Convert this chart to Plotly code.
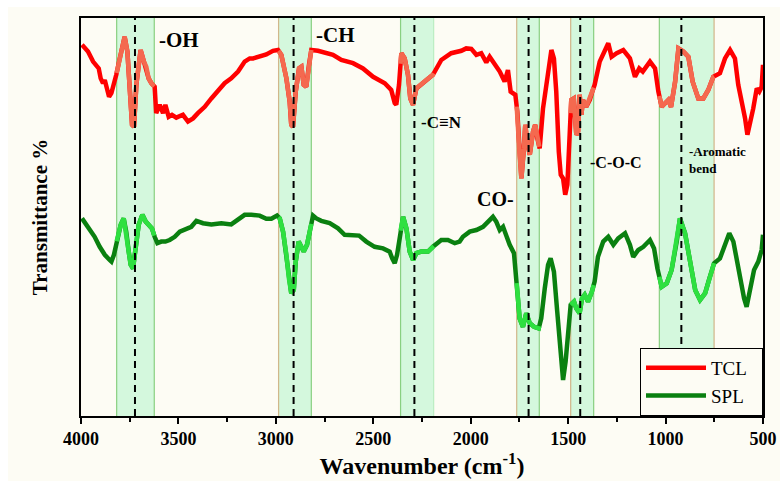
import numpy as np
import plotly.graph_objects as go

# ---------------- data ----------------
tcl_wn = [3995, 3964, 3938, 3921, 3909, 3899, 3887, 3878, 3865, 3856, 3844, 3831, 3819, 3801, 3776, 3762,
          3750, 3738, 3728, 3716, 3694, 3677, 3665, 3653, 3639, 3622, 3614, 3596, 3579, 3567, 3550, 3533,
          3511, 3477, 3451, 3425, 3400, 3365, 3331, 3297, 3263, 3229, 3194, 3160, 3134, 3117, 3083, 3049,
          3015, 2989, 2972, 2946, 2929, 2921, 2912, 2898, 2881, 2869, 2857, 2844, 2830, 2818, 2784, 2741,
          2707, 2664, 2604, 2553, 2501, 2441, 2408, 2390, 2382, 2368, 2356, 2339, 2322, 2310, 2296, 2279,
          2254, 2228, 2194, 2151, 2100, 2048, 2023, 1997, 1971, 1946, 1920, 1903, 1877, 1851, 1826, 1809,
          1795, 1771, 1761, 1749, 1740, 1727, 1720, 1710, 1697, 1680, 1669, 1658, 1646, 1629, 1603, 1586,
          1573, 1561, 1548, 1538, 1526, 1515, 1504, 1492, 1484, 1471, 1458, 1449, 1441, 1432, 1424, 1407,
          1389, 1376, 1364, 1338, 1320, 1294, 1277, 1251, 1217, 1183, 1157, 1135, 1117, 1080, 1054, 1037,
          1020, 1003, 986, 972, 951, 934, 909, 883, 861, 832, 806, 781, 755, 721, 695, 669, 644, 627, 609,
          592, 580, 567, 550, 532, 519, 507, 500]
tcl_t = [92.8, 91.1, 88.6, 87.3, 86.9, 84.4, 83.2, 84.0, 81.1, 79.8, 80.7, 82.8, 85.3, 89.4, 94.8, 91.1,
         81.1, 72.8, 72.3, 82.8, 91.5, 88.6, 87.3, 84.4, 83.2, 82.3, 75.7, 77.8, 75.7, 77.8, 74.8, 75.3,
         74.6, 75.3, 73.6, 74.4, 75.7, 77.3, 79.4, 81.5, 83.2, 84.4, 86.1, 88.6, 89.4, 89.4, 89.8, 90.4,
         91.3, 91.5, 90.3, 84.4, 78.6, 72.8, 72.3, 81.1, 86.9, 87.3, 82.8, 82.3, 87.8, 91.5, 91.3, 90.7,
         90.3, 89.0, 88.2, 86.9, 84.8, 83.2, 81.5, 78.2, 77.8, 82.8, 90.7, 89.4, 85.3, 79.4, 77.8, 81.9,
         82.8, 84.0, 85.3, 89.0, 90.7, 91.3, 91.9, 91.8, 90.3, 90.7, 88.4, 89.8, 87.8, 86.1, 83.6, 86.5,
         81.1, 80.3, 76.1, 65.3, 59.4, 66.9, 72.8, 68.6, 65.3, 71.1, 72.8, 69.4, 66.9, 76.9, 85.3, 91.5,
         89.4, 81.1, 66.1, 60.3, 59.4, 55.3, 57.8, 70.3, 79.0, 79.4, 70.3, 71.1, 80.3, 75.3, 79.0, 77.3,
         79.0, 81.1, 82.8, 88.6, 90.3, 93.2, 89.8, 90.7, 91.5, 89.4, 84.8, 86.9, 86.1, 88.6, 86.9, 81.1,
         77.3, 78.2, 79.0, 77.3, 83.6, 91.9, 91.1, 89.8, 83.6, 79.4, 79.4, 81.5, 84.8, 85.7, 89.4, 91.5,
         89.4, 82.8, 78.6, 74.4, 70.3, 72.8, 76.9, 81.9, 81.1, 82.3, 87.8]

spl_wn = [3995, 3973, 3947, 3930, 3904, 3878, 3853, 3844, 3831, 3814, 3796, 3781, 3768, 3755, 3745, 3733,
          3721, 3704, 3685, 3668, 3653, 3636, 3622, 3608, 3588, 3567, 3545, 3519, 3493, 3460, 3434, 3408,
          3374, 3331, 3280, 3229, 3194, 3160, 3126, 3083, 3049, 3023, 2994, 2980, 2963, 2946, 2933, 2921,
          2908, 2898, 2883, 2869, 2857, 2840, 2823, 2809, 2792, 2767, 2724, 2681, 2647, 2604, 2573, 2536,
          2493, 2450, 2416, 2403, 2390, 2378, 2364, 2347, 2330, 2313, 2296, 2279, 2254, 2219, 2194, 2151,
          2117, 2082, 2057, 2040, 2005, 1971, 1937, 1911, 1886, 1869, 1851, 1834, 1817, 1800, 1778, 1766,
          1749, 1732, 1715, 1697, 1675, 1651, 1638, 1620, 1603, 1590, 1573, 1556, 1538, 1526, 1513, 1501,
          1487, 1470, 1458, 1441, 1429, 1415, 1398, 1378, 1364, 1347, 1330, 1320, 1294, 1268, 1243, 1208,
          1183, 1166, 1140, 1114, 1080, 1059, 1042, 1020, 994, 969, 943, 926, 900, 874, 848, 823, 797, 775,
          751, 721, 695, 673, 652, 634, 617, 597, 584, 563, 546, 524, 507, 500]
spl_t = [49.4, 47.8, 46.1, 44.8, 42.3, 40.3, 39.0, 38.6, 40.3, 44.4, 47.8, 49.4, 46.1, 41.1, 37.8, 36.9,
         41.5, 47.8, 50.3, 48.6, 47.8, 46.9, 44.8, 43.2, 43.6, 43.6, 44.0, 44.8, 46.1, 46.9, 47.3, 48.8,
         48.2, 47.9, 48.2, 47.9, 49.0, 50.3, 50.3, 50.1, 49.3, 49.3, 50.1, 49.4, 46.1, 40.3, 34.4, 30.7,
         31.5, 38.6, 43.6, 42.3, 41.1, 42.8, 46.9, 50.1, 49.4, 48.8, 48.2, 46.9, 45.3, 45.3, 45.1, 43.6,
         42.3, 41.9, 41.1, 39.4, 38.2, 40.3, 45.3, 49.8, 46.9, 41.1, 39.0, 40.7, 41.1, 41.1, 42.3, 44.0,
         44.0, 43.2, 43.6, 44.8, 46.1, 46.5, 47.3, 48.6, 49.8, 48.6, 46.5, 47.3, 44.8, 42.8, 40.7, 34.4,
         24.4, 22.3, 25.7, 23.2, 22.3, 21.9, 24.4, 31.9, 37.8, 39.4, 36.1, 26.1, 16.1, 9.0, 13.6, 21.9,
         27.8, 28.6, 26.9, 25.7, 29.4, 30.3, 28.6, 31.1, 33.6, 39.8, 41.9, 43.6, 44.8, 42.8, 44.4, 45.7,
         42.8, 39.8, 41.5, 42.3, 44.0, 41.9, 36.9, 32.3, 33.2, 36.5, 43.6, 49.4, 45.7, 38.6, 31.5, 29.0,
         30.7, 34.4, 38.2, 39.4, 42.8, 45.7, 43.6, 38.6, 33.6, 29.4, 27.3, 31.9, 36.5, 38.6, 41.5, 45.3]

band_lo = [3624, 2818, 2190, 1648, 1369, 751]
band_hi = [3817, 2986, 2360, 1764, 1487, 1032]
peak_wn = [3723, 2909, 2289, 1703, 1438, 919]

labels = ["-OH", "-CH", "-C≡N", "CO-", "-C-O-C", "-Aromatic<br>bend"]
label_wn = [3610, 2804, 2265, 1978, 1398, 890]
label_t = [94.0, 95.2, 73.5, 54.3, 63.5, 64.0]
label_size = [21, 21, 17, 20, 16, 13]

series_names = ["TCL", "SPL"]
x_ticks = [4000, 3500, 3000, 2500, 2000, 1500, 1000, 500]

# ---------------- styles ----------------
FONT = "Liberation Serif"
BG = "#fdfcf4"
RED, RED_HI = "#ff0000", "#f4694f"
GRN, GRN_HI = "#0a8010", "#2ee040"
EDGE_G, EDGE_T = "rgba(120,200,110,0.85)", "rgba(205,170,120,0.85)"
# edge colour for the high-wavenumber side / low-wavenumber side of each band
edge_hi_col = [EDGE_G, EDGE_T, EDGE_G, EDGE_T, EDGE_T, EDGE_G]
edge_lo_col = [EDGE_G, EDGE_G, "rgba(160,230,170,0.6)", EDGE_G, EDGE_G, EDGE_T]
PAD = "\u00a0\u00a0"

fig = go.Figure()

# page background with white strip at top/left (as in the reference image)
fig.add_shape(type="rect", xref="paper", yref="paper", x0=(8 - 81) / 682, x1=1.03,
              y0=-0.17, y1=(416 - 7) / 398, fillcolor=BG, line=dict(width=0), layer="below")

# bands
for lo, hi, cl, ch in zip(band_lo, band_hi, edge_lo_col, edge_hi_col):
    fig.add_shape(type="rect", xref="x", yref="paper", x0=lo, x1=hi, y0=0, y1=1,
                  fillcolor="rgba(120,240,170,0.30)", line=dict(width=0), layer="below")
    fig.add_shape(type="line", xref="x", yref="paper", x0=hi, x1=hi, y0=0, y1=1,
                  line=dict(color=ch, width=1.2), layer="below")
    fig.add_shape(type="line", xref="x", yref="paper", x0=lo, x1=lo, y0=0, y1=1,
                  line=dict(color=cl, width=1.2), layer="below")

# main lines
fig.add_trace(go.Scatter(x=tcl_wn, y=tcl_t, mode="lines", name=series_names[0] + PAD,
                         line=dict(color=RED, width=4.5)))
fig.add_trace(go.Scatter(x=spl_wn, y=spl_t, mode="lines", name=series_names[1] + PAD,
                         line=dict(color=GRN, width=4.5)))


def segment(wn, t, lo, hi):
    wn = np.asarray(wn, float)
    t = np.asarray(t, float)
    order = np.argsort(wn)
    ws, ts = wn[order], t[order]
    inside = (ws > lo) & (ws < hi)
    xs = np.concatenate([[lo], ws[inside], [hi]])
    ys = np.interp(xs, ws, ts)
    return xs, ys


for lo, hi in zip(band_lo, band_hi):
    xs, ys = segment(tcl_wn, tcl_t, lo, hi)
    fig.add_trace(go.Scatter(x=xs, y=ys, mode="lines", showlegend=False, hoverinfo="skip",
                             line=dict(color=RED_HI, width=4.5)))
    xs, ys = segment(spl_wn, spl_t, lo, hi)
    fig.add_trace(go.Scatter(x=xs, y=ys, mode="lines", showlegend=False, hoverinfo="skip",
                             line=dict(color=GRN_HI, width=4.5)))

# dashed peak lines
for p in peak_wn:
    fig.add_shape(type="line", xref="x", yref="paper", x0=p, x1=p, y0=0, y1=1,
                  line=dict(color="black", width=2, dash="7px,5px"))

# labels
for txt, xw, yt, fs in zip(labels, label_wn, label_t, label_size):
    fig.add_annotation(x=xw, y=yt, text="<b>" + txt + "</b>", showarrow=False,
                       xanchor="left", yanchor="middle", align="left",
                       font=dict(family=FONT, size=fs, color="black"))

fig.update_layout(
    width=780, height=481,
    margin=dict(l=81, r=17, t=18, b=65),
    paper_bgcolor="white", plot_bgcolor=BG,
    font=dict(family=FONT, color="black"),
    showlegend=True,
    legend=dict(x=1, y=0, xanchor="right", yanchor="bottom",
                bgcolor=BG, bordercolor="black", borderwidth=1,
                font=dict(family=FONT, size=19, color="black"),
                tracegroupgap=0, itemwidth=60),
    xaxis=dict(range=[4000, 500], tickmode="array", tickvals=x_ticks,
               ticktext=["<b>%d</b>" % v for v in x_ticks],
               tickfont=dict(family=FONT, size=18, color="black"),
               ticks="outside", ticklen=6, tickwidth=1.5, tickcolor="black",
               minor=dict(dtick=250, tick0=500, ticks="outside", ticklen=4, tickwidth=1.5, tickcolor="black"),
               showline=True, linecolor="black", linewidth=1.5, mirror=True,
               showgrid=False, zeroline=False, automargin=False,
               title=dict(text="<b>Wavenumber (cm<sup>-1</sup>)</b>", font=dict(family=FONT, size=24),
                          standoff=9)),
    yaxis=dict(range=[0, 99.5], showticklabels=False, ticks="",
               showline=True, linecolor="black", linewidth=1.5, mirror=True,
               showgrid=False, zeroline=False, automargin=False,
               title=dict(text="<b>Transmittance %</b>", font=dict(family=FONT, size=21), standoff=26)),
)

fig.write_html("out.html",
               post_script="document.body.style.margin='0';document.body.style.overflow='hidden';")
